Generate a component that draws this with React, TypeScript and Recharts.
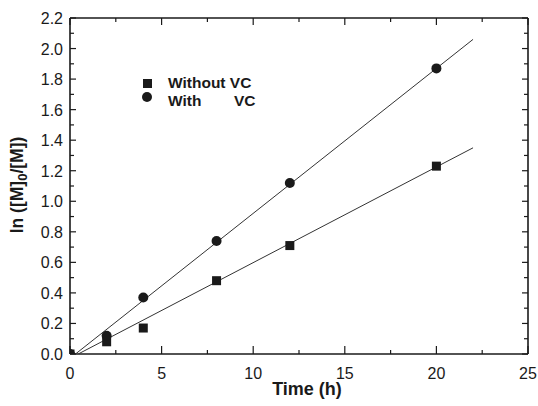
import { ScatterChart, Scatter, XAxis, YAxis } from 'recharts';

const xMajor = [0, 5, 10, 15, 20, 25];
const xTicks = [0, 2.5, 5, 7.5, 10, 12.5, 15, 17.5, 20, 22.5, 25];
const yMajor = [0, 0.2, 0.4, 0.6, 0.8, 1.0, 1.2, 1.4, 1.6, 1.8, 2.0, 2.2];
const yTicks = [0, 0.1, 0.2, 0.3, 0.4, 0.5, 0.6, 0.7, 0.8, 0.9, 1.0, 1.1, 1.2, 1.3, 1.4, 1.5, 1.6, 1.7, 1.8, 1.9, 2.0, 2.1, 2.2];

const withoutVC = [
  { x: 0, y: 0 },
  { x: 2, y: 0.08 },
  { x: 4, y: 0.17 },
  { x: 8, y: 0.48 },
  { x: 12, y: 0.71 },
  { x: 20, y: 1.23 },
];
const withVC = [
  { x: 0, y: 0 },
  { x: 2, y: 0.12 },
  { x: 4, y: 0.37 },
  { x: 8, y: 0.74 },
  { x: 12, y: 1.12 },
  { x: 20, y: 1.87 },
];
// fitted lines, end points
const fitWithout = [
  { x: 0.45, y: 0 },
  { x: 22, y: 1.35 },
];
const fitWith = [
  { x: 0.3, y: 0 },
  { x: 22, y: 2.06 },
];

const FONT = '"Liberation Sans", Arial, Helvetica, sans-serif';
const INK = '#1a1a1a';

const isMajor = (list: number[], v: number) => list.some((m) => Math.abs(m - v) < 1e-6);

function BottomTick(props: any) {
  const { x, y, payload } = props;
  const major = isMajor(xMajor, payload.value);
  return (
    <g>
      <path d={`M${x},${y}V${y - (major ? 8 : 4)}`} stroke={INK} strokeWidth={1.2} fill="none" />
      {major && (
        <text x={x} y={y + 25} textAnchor="middle" fontSize={16} fontFamily={FONT} fill={INK}>
          {payload.value}
        </text>
      )}
    </g>
  );
}

function TopTick(props: any) {
  const { x, y, payload } = props;
  const major = isMajor(xMajor, payload.value);
  return <path d={`M${x},${y}V${y + (major ? 7 : 4)}`} stroke={INK} strokeWidth={1.2} fill="none" />;
}

function LeftTick(props: any) {
  const { x, y, payload } = props;
  const major = isMajor(yMajor, payload.value);
  return (
    <g>
      <path d={`M${x},${y}H${x + (major ? 6 : 4)}`} stroke={INK} strokeWidth={1.2} fill="none" />
      {major && (
        <text x={x - 7} y={y + 6} textAnchor="end" fontSize={16} fontFamily={FONT} fill={INK}>
          {payload.value.toFixed(1)}
        </text>
      )}
    </g>
  );
}

function RightTick(props: any) {
  const { x, y, payload } = props;
  const major = isMajor(yMajor, payload.value);
  return <path d={`M${x},${y}H${x - (major ? 6 : 4)}`} stroke={INK} strokeWidth={1.2} fill="none" />;
}

const SquareDot = ({ cx, cy }: any) => <rect x={cx - 4.5} y={cy - 4.5} width={9} height={9} fill={INK} />;
const CircleDot = ({ cx, cy }: any) => <circle cx={cx} cy={cy} r={5} fill={INK} />;
const NoDot = () => <g />;

const axisLine = { stroke: INK, strokeWidth: 1.6 };

export default function App() {
  return (
    <div style={{ position: 'absolute', left: 0, top: 0, width: 538, height: 406, background: '#fff', fontFamily: FONT }}>
      <ScatterChart width={538} height={406} margin={{ top: 17, right: 9, bottom: 22, left: 10 }}>
        <XAxis
          xAxisId="bottom"
          type="number"
          dataKey="x"
          domain={[0, 25]}
          allowDataOverflow
          ticks={xTicks}
          interval={0}
          height={30}
          tickSize={0}
          tickMargin={0}
          tickLine={false}
          tick={BottomTick}
          axisLine={axisLine}
        />
        <XAxis
          xAxisId="top"
          orientation="top"
          type="number"
          dataKey="x"
          domain={[0, 25]}
          allowDataOverflow
          ticks={xTicks}
          interval={0}
          height={1}
          tickSize={0}
          tickMargin={0}
          tickLine={false}
          tick={TopTick}
          axisLine={axisLine}
        />
        <YAxis
          yAxisId="left"
          type="number"
          dataKey="y"
          domain={[0, 2.2]}
          allowDataOverflow
          ticks={yTicks}
          interval={0}
          width={60}
          tickSize={0}
          tickMargin={0}
          tickLine={false}
          tick={LeftTick}
          axisLine={axisLine}
        />
        <YAxis
          yAxisId="right"
          orientation="right"
          type="number"
          dataKey="y"
          domain={[0, 2.2]}
          allowDataOverflow
          ticks={yTicks}
          interval={0}
          width={1}
          tickSize={0}
          tickMargin={0}
          tickLine={false}
          tick={RightTick}
          axisLine={axisLine}
        />
        <Scatter xAxisId="top" yAxisId="right" data={fitWithout} line={{ stroke: '#333', strokeWidth: 1 }} shape={NoDot} isAnimationActive={false} />
        <Scatter xAxisId="top" yAxisId="right" data={fitWith} line={{ stroke: '#333', strokeWidth: 1 }} shape={NoDot} isAnimationActive={false} />
        <Scatter xAxisId="bottom" yAxisId="left" name="Without VC" data={withoutVC} shape={SquareDot} isAnimationActive={false} />
        <Scatter xAxisId="bottom" yAxisId="left" name="With VC" data={withVC} shape={CircleDot} isAnimationActive={false} />
      </ScatterChart>

      {/* legend */}
      <div style={{ position: 'absolute', left: 143, top: 79, width: 9, height: 9, background: INK }} />
      <div style={{ position: 'absolute', left: 142, top: 92, width: 10, height: 10, borderRadius: 5, background: INK }} />
      <div style={{ position: 'absolute', left: 168, top: 74, fontSize: 15.5, fontWeight: 700, color: INK, whiteSpace: 'pre', lineHeight: '18px' }}>
        Without VC
      </div>
      <div style={{ position: 'absolute', left: 168, top: 92, fontSize: 15.5, fontWeight: 700, color: INK, whiteSpace: 'pre', lineHeight: '18px' }}>
        With
      </div>
      <div style={{ position: 'absolute', left: 234, top: 92, fontSize: 15.5, fontWeight: 700, color: INK, whiteSpace: 'pre', lineHeight: '18px' }}>
        VC
      </div>

      {/* axis titles */}
      <div style={{ position: 'absolute', left: 307, top: 379, transform: 'translateX(-50%)', fontSize: 18, fontWeight: 700, color: INK, whiteSpace: 'pre', lineHeight: '20px' }}>
        Time (h)
      </div>
      <div
        style={{
          position: 'absolute',
          left: 20,
          top: 185,
          transform: 'translate(-50%, -50%) rotate(-90deg)',
          fontSize: 17.5,
          fontWeight: 700,
          color: INK,
          whiteSpace: 'pre',
          lineHeight: '20px',
        }}
      >
        ln ([M]<sub style={{ fontSize: 13 }}>0</sub>/[M])
      </div>
    </div>
  );
}
